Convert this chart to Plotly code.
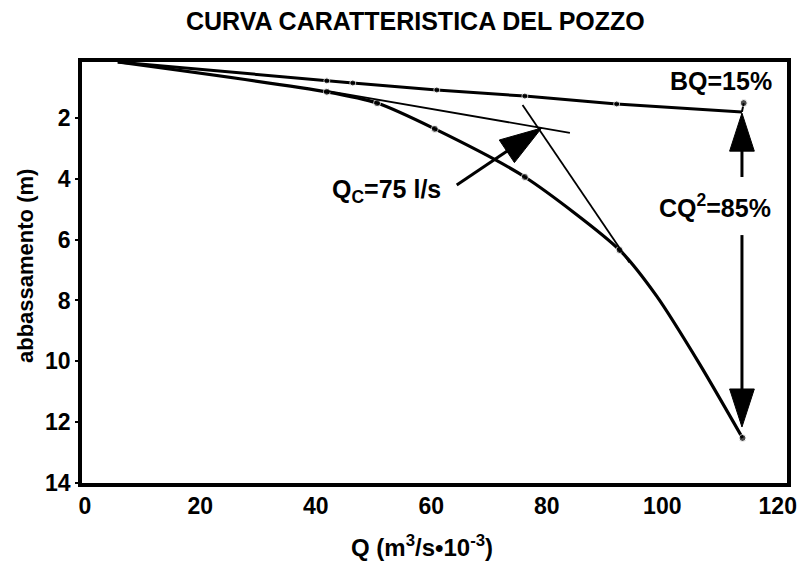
import plotly.graph_objects as go

# ---- data ----
q_upper = [5.7, 41.9, 46.4, 60.95, 76.2, 92.1, 113.8]
s_upper = [0.16, 0.78, 0.85, 1.08, 1.28, 1.54, 1.80]
upper_dot = [0, 1, 1, 1, 1, 1, 0]

q_bq = [114.1, 113.8]
s_bq = [1.51, 1.80]

q_lower = [5.7, 41.9, 50.6, 60.6, 76.2, 92.6, 99.0, 106.5, 113.9]
s_lower = [0.16, 1.14, 1.51, 2.36, 3.94, 6.34, 7.85, 10.1, 12.52]
lower_dot = [0, 1, 1, 1, 1, 1, 0, 0, 1]

q_tan1 = [41.9, 84.0]
s_tan1 = [1.11, 2.49]
q_tan2 = [75.8, 94.3]
s_tan2 = [1.57, 6.75]

q_arrow_qc = [64.4, 79.1]
s_arrow_qc = [4.2, 2.33]
q_arrow_up = [113.8, 113.8]
s_arrow_up = [3.94, 1.84]
q_arrow_dn = [113.8, 113.8]
s_arrow_dn = [5.85, 12.16]

x_ticks = [0, 20, 40, 60, 80, 100, 120]
y_ticks = [2, 4, 6, 8, 10, 12, 14]

FONT = "Liberation Sans"

fig = go.Figure()

def dots(flags, size=6):
    return [size if f else 0 for f in flags]

fig.add_trace(go.Scatter(x=q_upper, y=s_upper, mode="lines+markers",
                         line=dict(color="black", width=3),
                         marker=dict(color="black", size=dots(upper_dot))))
fig.add_trace(go.Scatter(x=q_bq, y=s_bq, mode="lines+markers",
                         line=dict(color="black", width=2),
                         marker=dict(color="black", size=[7, 0])))
fig.add_trace(go.Scatter(x=q_lower, y=s_lower, mode="lines+markers",
                         line=dict(color="black", width=3.2, shape="spline", smoothing=0.7),
                         marker=dict(color="black", size=dots(lower_dot, 7))))
for qx, sy in [(q_tan1, s_tan1), (q_tan2, s_tan2)]:
    fig.add_trace(go.Scatter(x=qx, y=sy, mode="lines",
                             line=dict(color="black", width=1.8)))

for qx, sy, sz in [(q_arrow_qc, s_arrow_qc, 44), (q_arrow_up, s_arrow_up, 40), (q_arrow_dn, s_arrow_dn, 40)]:
    fig.add_trace(go.Scatter(x=qx, y=sy, mode="lines+markers",
                             line=dict(color="black", width=3),
                             marker=dict(color="black", size=[0, sz], opacity=1,
                                         symbol=["circle", "arrow"],
                                         line=dict(color="black", width=1),
                                         angleref="previous")))

fig.update_layout(
    width=800, height=565,
    margin=dict(l=82, r=13, t=62, b=82),
    paper_bgcolor="white", plot_bgcolor="white",
    showlegend=False,
    font=dict(family=FONT, color="black"),
    xaxis=dict(range=[-0.5, 121.6], tickvals=x_ticks, showgrid=False, zeroline=False,
               automargin=False,
               showline=True, linecolor="black", linewidth=3.5, mirror=True,
               ticks="", tickfont=dict(size=23, family=FONT, weight="bold")),
    yaxis=dict(range=[14, 0.16], tickvals=y_ticks, showgrid=False, zeroline=False,
               automargin=False,
               showline=True, linecolor="black", linewidth=3.5, mirror=True,
               ticks="outside", ticklen=3, tickwidth=1.5, tickcolor="black",
               tickfont=dict(size=23, family=FONT, weight="bold")),
)

ann_font = dict(size=25, family=FONT, color="black", weight="bold")
fig.add_annotation(text="CURVA CARATTERISTICA DEL POZZO", xref="paper", yref="paper",
                   x=(415 - 82) / 705, y=1 + (62 - 21) / 421, showarrow=False,
                   xanchor="center", yanchor="middle",
                   font=dict(size=25, family=FONT, color="black", weight="bold"))
fig.add_annotation(text="abbassamento (m)", xref="paper", yref="paper",
                   x=(25 - 82) / 705, y=1 - (266 - 62) / 421, textangle=-90, showarrow=False,
                   xanchor="center", yanchor="middle", font=dict(size=22, family=FONT, weight="bold"))
fig.add_annotation(text="Q (m<sup>3</sup>/s•10<sup>-3</sup>)", xref="paper", yref="paper",
                   x=(422 - 82) / 705, y=-(546 - 483) / 421, showarrow=False,
                   xanchor="center", yanchor="middle", font=dict(size=24, family=FONT, weight="bold"))
fig.add_annotation(text="BQ=15%", x=110.2, y=0.8, showarrow=False,
                   xanchor="center", yanchor="middle", font=ann_font)
fig.add_annotation(text="Q<sub>C</sub>=75 l/s", x=52.2, y=4.4, showarrow=False,
                   xanchor="center", yanchor="middle", font=ann_font)
fig.add_annotation(text="CQ<sup>2</sup>=85%", x=109.2, y=4.9, showarrow=False,
                   xanchor="center", yanchor="middle", font=ann_font)

fig.write_html("out.html")
